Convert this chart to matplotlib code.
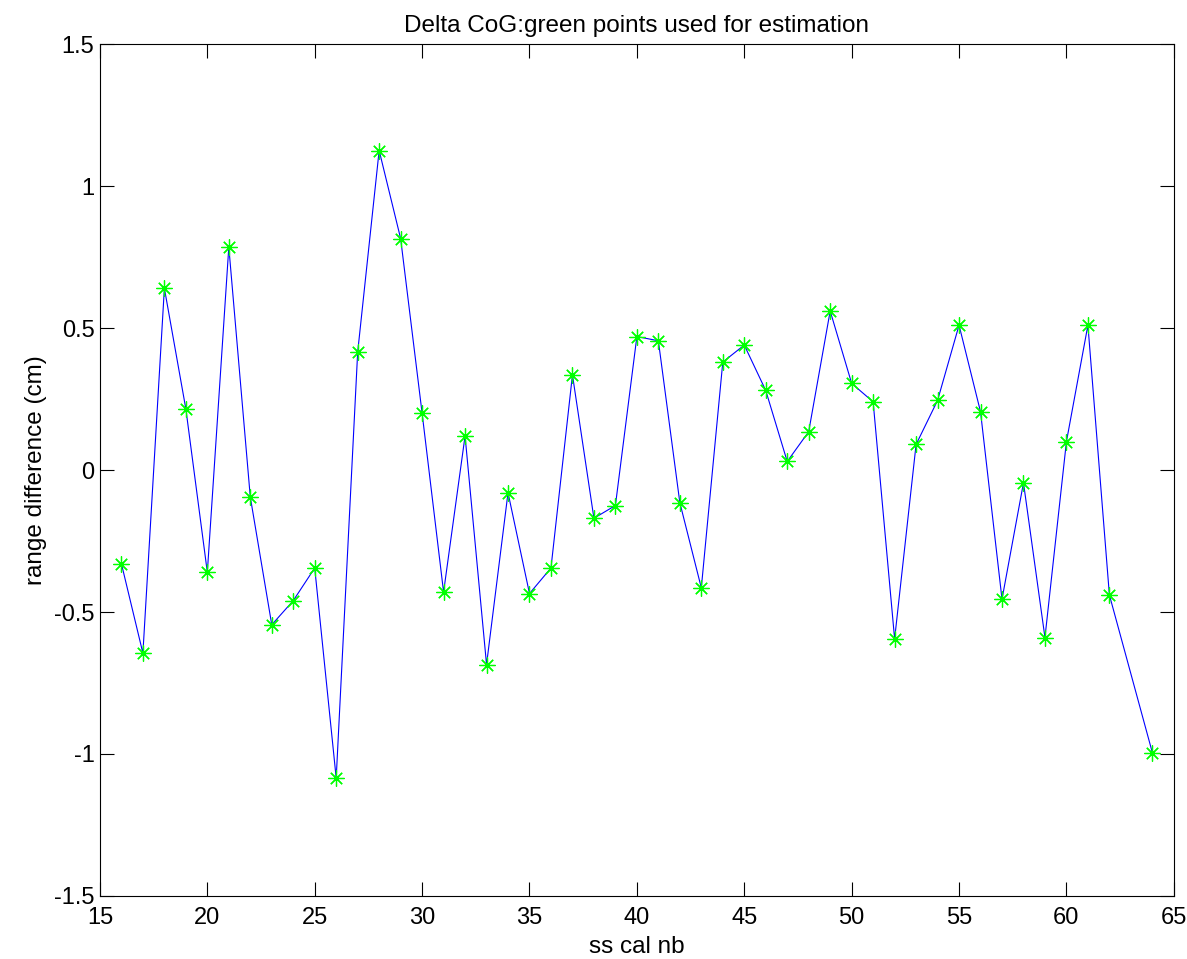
import matplotlib
matplotlib.use('Agg')
import matplotlib.pyplot as plt

# ss calibration numbers (63 missing) and range differences
cal_nb = [16, 17, 18, 19, 20, 21, 22, 23, 24, 25, 26, 27, 28, 29, 30, 31, 32,
          33, 34, 35, 36, 37, 38, 39, 40, 41, 42, 43, 44, 45, 46, 47, 48, 49,
          50, 51, 52, 53, 54, 55, 56, 57, 58, 59, 60, 61, 62, 64]
range_diff = [-0.33, -0.645, 0.64, 0.215, -0.36, 0.785, -0.095, -0.545, -0.46,
              -0.345, -1.085, 0.415, 1.125, 0.815, 0.2, -0.43, 0.12, -0.685,
              -0.08, -0.435, -0.345, 0.335, -0.17, -0.125, 0.47, 0.455, -0.115,
              -0.415, 0.38, 0.44, 0.28, 0.03, 0.135, 0.56, 0.305, 0.24, -0.595,
              0.09, 0.245, 0.51, 0.205, -0.455, -0.045, -0.59, 0.1, 0.51, -0.44,
              -0.995]

xticks = list(range(15, 70, 5))
yticks = [-1.5, -1, -0.5, 0, 0.5, 1, 1.5]
ytick_labels = ['-1.5', '-1', '-0.5', '0', '0.5', '1', '1.5']

plt.rcParams['font.family'] = ['Liberation Sans', 'DejaVu Sans']

fig = plt.figure(figsize=(11.87, 9.59), dpi=100)
ax = fig.add_axes([0.0842, 0.0657, 0.9047, 0.8884])

ax.plot(cal_nb, range_diff, color='#0000ff', linewidth=0.8)
ax.plot(cal_nb, range_diff, linestyle='none', marker=(8, 2, 0),
        markersize=11.5, markeredgewidth=0.9, color='#00ff00')

ax.set_xlim(15, 65)
ax.set_ylim(-1.5, 1.5)
ax.set_xticks(xticks)
ax.set_yticks(yticks)
ax.set_yticklabels(ytick_labels)
ax.tick_params(direction='in', length=10, width=0.8, top=True, right=True,
               labelsize=17)
ax.tick_params(axis='x', pad=8)
ax.tick_params(axis='y', pad=4)
for s in ax.spines.values():
    s.set_linewidth(0.8)

ax.set_title('Delta CoG:green points used for estimation', fontsize=17.5, pad=9)
ax.set_xlabel('ss cal nb', fontsize=17.5, labelpad=5)
ax.set_ylabel('range difference (cm)', fontsize=17.5, labelpad=5)

fig.savefig('out.png', dpi=100, facecolor='white')
